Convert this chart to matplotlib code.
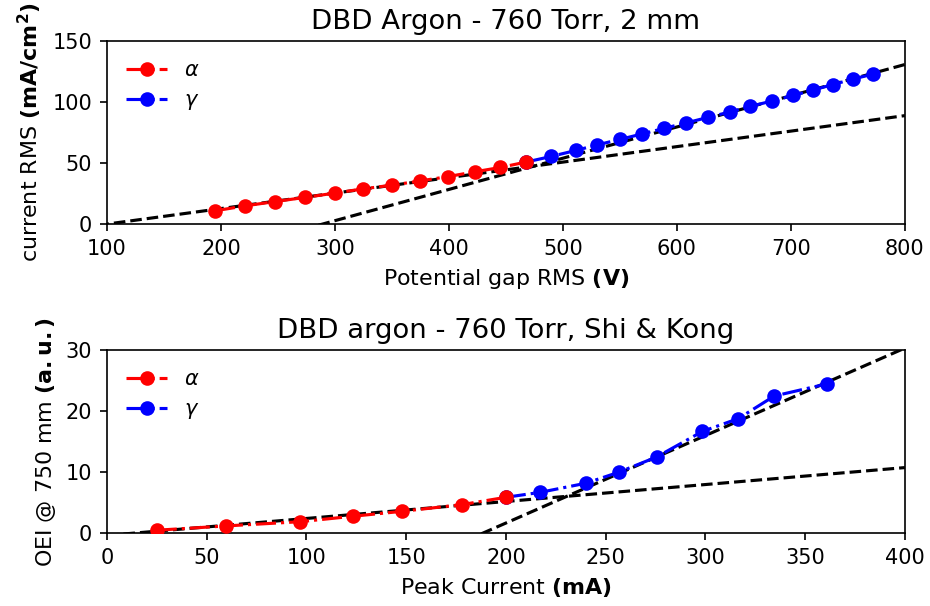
import numpy as np
import matplotlib
matplotlib.use("Agg")
import matplotlib.pyplot as plt

# Top panel: RMS current vs RMS gap potential (2 mm gap)
v_alpha = [195, 221, 247, 274, 300, 325, 350, 375, 399, 423, 445, 468]
j_alpha = [11, 15, 18.5, 22, 25.5, 29, 32, 35.5, 39, 43, 46.5, 51]
v_gamma = [468, 489.5, 511.5, 530, 550, 569.5, 588.5, 608, 627, 646.5, 664,
           683.5, 702, 719.5, 737, 754.5, 772]
j_gamma = [51, 55.5, 60.5, 65, 69.5, 74, 78.5, 83, 87.5, 92, 96.5,
           101, 105.5, 110, 114.5, 119, 123]
# linear fits (slope, intercept) for each regime
fit_top_alpha = (0.127, -12.6)
fit_top_gamma = (0.256, -73.9)

# Bottom panel: OEI @ 750 nm vs peak current (Shi & Kong)
i_alpha = [25, 59.5, 97, 123.5, 148, 178, 200]
oei_alpha = [0.5, 1.2, 1.9, 2.8, 3.6, 4.7, 5.9]
i_gamma = [200, 217, 240, 256.5, 275.5, 298.5, 316.5, 334.5, 361]
oei_gamma = [5.9, 6.7, 8.2, 10, 12.5, 16.7, 18.8, 22.5, 24.5]
fit_bot_alpha = (0.0278, -0.35)
fit_bot_gamma = (0.1434, -27.0)

fig, (ax1, ax2) = plt.subplots(2, 1, figsize=(6.2, 4.04), dpi=150)
fig.subplots_adjust(left=0.115, right=0.973, top=0.932, bottom=0.120,
                    hspace=0.689)

TITLE_FS = 13.2
LABEL_FS = 10.6

# --- top ---
xf = np.linspace(0, 800, 200)
for m, b in (fit_top_alpha, fit_top_gamma):
    ax1.plot(xf, m * xf + b, "k--")
ax1.plot(v_gamma, j_gamma, "b-.", marker="o", label=r"$\gamma$")
ax1.plot(v_alpha, j_alpha, "r-.", marker="o", label=r"$\alpha$", zorder=3)
ax1.set_xlim(100, 800)
ax1.set_ylim(0, 150)
ax1.set_yticks([0, 50, 100, 150])
ax1.set_title("DBD Argon - 760 Torr, 2 mm", fontsize=TITLE_FS)
ax1.set_xlabel(r"Potential gap RMS $\bf{(V)}$", fontsize=LABEL_FS)
ax1.set_ylabel(r"current RMS $\bf{(mA/cm^2)}$", fontsize=LABEL_FS)
h, l = ax1.get_legend_handles_labels()
ax1.legend(h[::-1], l[::-1], loc="upper left", frameon=False)

# --- bottom ---
xf = np.linspace(0, 400, 200)
for m, b in (fit_bot_alpha, fit_bot_gamma):
    ax2.plot(xf, m * xf + b, "k--")
ax2.plot(i_gamma, oei_gamma, "b-.", marker="o", label=r"$\gamma$")
ax2.plot(i_alpha, oei_alpha, "r-.", marker="o", label=r"$\alpha$", zorder=3)
ax2.set_xlim(0, 400)
ax2.set_ylim(0, 30)
ax2.set_title("DBD argon - 760 Torr, Shi & Kong", fontsize=TITLE_FS)
ax2.set_xlabel(r"Peak Current $\bf{(mA)}$", fontsize=LABEL_FS)
ax2.set_ylabel(r"OEI @ 750 mm $\bf{(a.u.)}$", fontsize=LABEL_FS)
h, l = ax2.get_legend_handles_labels()
ax2.legend(h[::-1], l[::-1], loc="upper left", frameon=False)

fig.savefig("out.png", dpi=150)
